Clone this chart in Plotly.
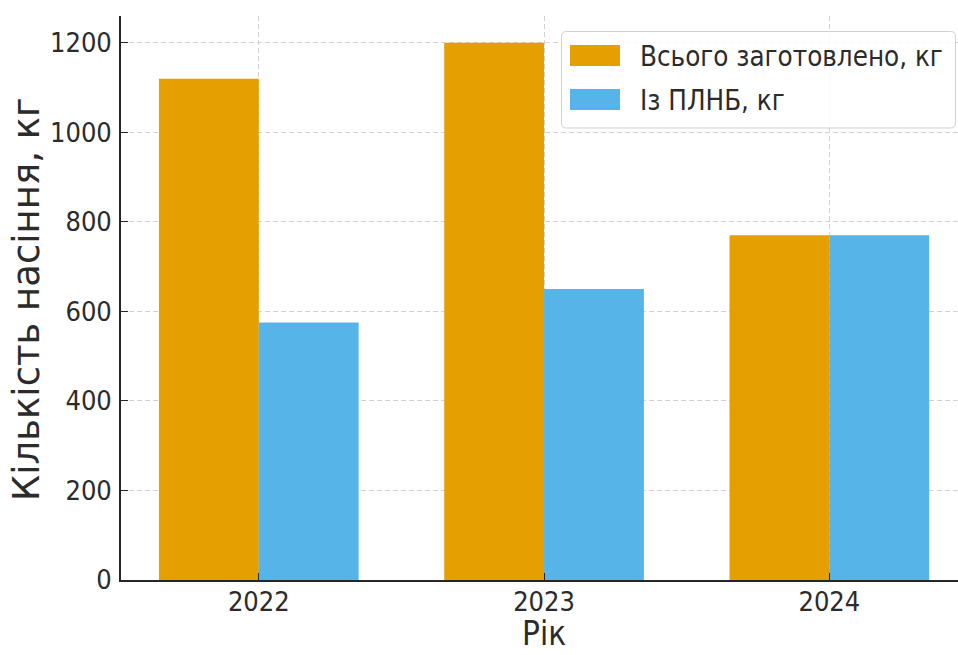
import plotly.graph_objects as go

years = ["2022", "2023", "2024"]
total_kg = [1120, 1200, 770]
plnb_kg = [575, 650, 770]
series_names = ["Всього заготовлено, кг", "Із ПЛНБ, кг"]
colors = ["#E69F00", "#56B4E9"]
x_title = "Рік"
y_title = "Кількість насіння, кг"

pos = list(range(len(years)))
bar_w = 0.35

COND = "DejaVu Sans Condensed, DejaVu Sans, sans-serif"
NORM = "DejaVu Sans, sans-serif"
TXT = "#2b2b2b"

fig = go.Figure()
fig.add_trace(go.Bar(x=pos, y=total_kg, width=bar_w, offset=-bar_w, name=series_names[0],
                     marker=dict(color=colors[0], line=dict(width=0)), showlegend=False))
fig.add_trace(go.Bar(x=pos, y=plnb_kg, width=bar_w, offset=0, name=series_names[1],
                     marker=dict(color=colors[1], line=dict(width=0)), showlegend=False))

W, H = 958, 655
L, R, T, B = 121, 0, 16, 75
pw, ph = W - L - R, H - T - B

def px2paper(x, y):
    return (x - L) / pw, (H - B - y) / ph

# custom legend (matplotlib-style)
x0, y0 = px2paper(561.5, 128)
x1, y1 = px2paper(955.5, 31.5)
r = 5
rx, ry = r / pw, r / ph
path = (f"M {x0+rx},{y1} L {x1-rx},{y1} Q {x1},{y1} {x1},{y1-ry} "
        f"L {x1},{y0+ry} Q {x1},{y0} {x1-rx},{y0} L {x0+rx},{y0} "
        f"Q {x0},{y0} {x0},{y0+ry} L {x0},{y1-ry} Q {x0},{y1} {x0+rx},{y1} Z")
shapes = [dict(type="path", path=path, xref="paper", yref="paper",
               fillcolor="rgba(255,255,255,0.85)", line=dict(color="#d0d0d0", width=1))]
annotations = []
for i, (name, col) in enumerate(zip(series_names, colors)):
    top = 45 + i * 44
    px0, py0 = px2paper(570, top + 21)
    px1, py1 = px2paper(620, top)
    shapes.append(dict(type="rect", xref="paper", yref="paper", x0=px0, x1=px1, y0=py0, y1=py1,
                       fillcolor=col, line=dict(width=0)))
    tx, ty = px2paper(638, top + 10.5)
    annotations.append(dict(text=name, xref="paper", yref="paper", x=tx, y=ty,
                            xanchor="left", yanchor="middle", showarrow=False,
                            font=dict(family=COND, size=27.5, color=TXT)))

# axis titles
ax, ay = px2paper(544, 655)
annotations.append(dict(text=x_title, xref="paper", yref="paper", x=ax, y=ay,
                        xanchor="center", yanchor="bottom", showarrow=False,
                        font=dict(family=COND, size=33, color=TXT)))
bx, by = px2paper(26, 299)
annotations.append(dict(text=y_title, xref="paper", yref="paper", x=bx, y=by, textangle=-90,
                        xanchor="center", yanchor="middle", showarrow=False,
                        font=dict(family=NORM, size=37, color=TXT)))

grid = dict(showgrid=True, gridcolor="#d2d2d2", griddash="5px,3px", gridwidth=1)

fig.update_layout(
    width=W, height=H,
    margin=dict(l=L, r=R, t=T, b=B, pad=0),
    plot_bgcolor="white", paper_bgcolor="white",
    barmode="overlay",
    shapes=shapes, annotations=annotations,
    xaxis=dict(
        range=[-0.483, 2.451], tickmode="array", tickvals=pos, ticktext=years,
        **grid,
        showline=True, linecolor="#262626", linewidth=1.6,
        ticks="inside", ticklen=7, tickcolor="#262626", tickwidth=1.3,
        tickfont=dict(family=COND, size=27, color=TXT),
        ticklabelstandoff=-3,
        zeroline=False, automargin=False,
    ),
    yaxis=dict(
        range=[0, 1260], tickmode="array", tickvals=[0, 200, 400, 600, 800, 1000, 1200],
        **grid,
        showline=True, linecolor="#262626", linewidth=1.6,
        ticks="inside", ticklen=7, tickcolor="#262626", tickwidth=1.3,
        tickfont=dict(family=COND, size=27, color=TXT),
        ticklabelstandoff=2,
        zeroline=False, automargin=False,
    ),
)

fig.write_html("out.html")
